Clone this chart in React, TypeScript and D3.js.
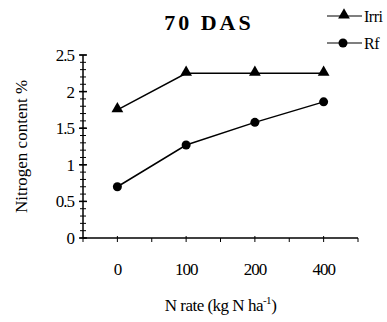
import { useRef, useEffect } from 'react';
import * as d3 from 'd3';

// N rate categories (kg N/ha) and nitrogen content % at 70 DAS
const n_rates = ["0", "100", "200", "400"];
const irri_values = [1.75, 2.25, 2.25, 2.25];
const rf_values = [0.7, 1.27, 1.58, 1.86];
const y_ticks = [0, 0.5, 1, 1.5, 2, 2.5];

const series = [
    { name: "Irri", values: irri_values, marker: "triangle" },
    { name: "Rf", values: rf_values, marker: "circle" },
];

export default function App() {
    const ref = useRef<SVGSVGElement>(null);

    useEffect(() => {
        const svg = d3.select(ref.current);
        svg.selectAll("*").remove();

        const font = "Liberation Serif, DejaVu Serif, serif";
        const left = 83, right = 358, top = 55, bottom = 238;

        const x = d3.scaleBand<string>()
            .domain(n_rates)
            .range([left, right]);

        const y = d3.scaleLinear()
            .domain([0, 2.5])
            .range([bottom, top]);

        const g = svg.append("g").attr("font-family", font);

        // y axis with major and minor ticks
        g.append("line")
            .attr("x1", left).attr("x2", left)
            .attr("y1", y(2.5)).attr("y2", y(0))
            .attr("stroke", "black").attr("stroke-width", 1.5);
        d3.range(0, 25.5).map((i) => i / 10).forEach((v) => {
            g.append("line")
                .attr("x1", left - 3).attr("x2", left + 3)
                .attr("y1", y(v)).attr("y2", y(v))
                .attr("stroke", "black").attr("stroke-width", 1);
        });
        y_ticks.forEach((v) => {
            g.append("line")
                .attr("x1", left - 4).attr("x2", left + 4)
                .attr("y1", y(v)).attr("y2", y(v))
                .attr("stroke", "black").attr("stroke-width", 1.5);
            g.append("text")
                .attr("x", left - 9)
                .attr("y", y(v))
                .attr("dy", "0.35em")
                .attr("text-anchor", "end")
                .attr("font-size", 17)
                .attr("letter-spacing", -1)
                .text(v);
        });

        // x axis with ticks at band centers and band edges
        g.append("line")
            .attr("x1", left).attr("x2", right)
            .attr("y1", bottom).attr("y2", bottom)
            .attr("stroke", "black").attr("stroke-width", 1.5);
        const edges = [...n_rates.map((d) => x(d) ?? 0), right];
        edges.forEach((ex) => {
            g.append("line")
                .attr("x1", ex).attr("x2", ex)
                .attr("y1", bottom).attr("y2", bottom + 4)
                .attr("stroke", "black").attr("stroke-width", 1);
        });
        n_rates.forEach((d) => {
            const cx = (x(d) ?? 0) + x.bandwidth() / 2;
            g.append("line")
                .attr("x1", cx).attr("x2", cx)
                .attr("y1", bottom - 2).attr("y2", bottom + 4)
                .attr("stroke", "black").attr("stroke-width", 1);
            g.append("text")
                .attr("x", cx)
                .attr("y", bottom + 37)
                .attr("text-anchor", "middle")
                .attr("font-size", 17)
                .attr("letter-spacing", -1)
                .text(d);
        });

        // series lines and markers
        const line = d3.line<number>()
            .x((_, i) => (x(n_rates[i]) ?? 0) + x.bandwidth() / 2)
            .y((v) => y(v));
        const tri = d3.symbol().type(d3.symbolTriangle).size(60);

        series.forEach((s) => {
            g.append("path")
                .attr("d", line(s.values))
                .attr("fill", "none")
                .attr("stroke", "black")
                .attr("stroke-width", 1.5);
            s.values.forEach((v, i) => {
                const cx = (x(n_rates[i]) ?? 0) + x.bandwidth() / 2;
                if (s.marker === "triangle") {
                    g.append("path")
                        .attr("d", tri())
                        .attr("transform", `translate(${cx}, ${y(v) - 1})`)
                        .attr("fill", "black");
                } else {
                    g.append("circle")
                        .attr("cx", cx).attr("cy", y(v)).attr("r", 4.5)
                        .attr("fill", "black");
                }
            });
        });

        // legend
        series.forEach((s, i) => {
            const ly = 16 + i * 27;
            g.append("line")
                .attr("x1", 327).attr("x2", 362)
                .attr("y1", ly).attr("y2", ly)
                .attr("stroke", "black").attr("stroke-width", 1.2);
            if (s.marker === "triangle") {
                g.append("path")
                    .attr("d", tri())
                    .attr("transform", `translate(344, ${ly - 1})`)
                    .attr("fill", "black");
            } else {
                g.append("circle")
                    .attr("cx", 343).attr("cy", ly).attr("r", 4.5)
                    .attr("fill", "black");
            }
            g.append("text")
                .attr("x", 364)
                .attr("y", ly)
                .attr("dy", "0.35em")
                .attr("font-size", 16)
                .attr("letter-spacing", -0.5)
                .text(s.name);
        });

        // title
        g.append("text")
            .attr("x", 209)
            .attr("y", 30)
            .attr("text-anchor", "middle")
            .attr("font-size", 22)
            .attr("font-weight", "bold")
            .attr("letter-spacing", 3)
            .text("70 DAS");

        // axis titles
        g.append("text")
            .attr("transform", `translate(27, ${(top + bottom) / 2}) rotate(-90)`)
            .attr("text-anchor", "middle")
            .attr("font-size", 17)
            .text("Nitrogen content %");

        const xt = g.append("text")
            .attr("x", (left + right) / 2)
            .attr("y", 311)
            .attr("text-anchor", "middle")
            .attr("font-size", 17)
            .attr("letter-spacing", -0.5);
        xt.append("tspan").text("N rate (kg N ha");
        xt.append("tspan").attr("dy", -7).attr("font-size", 11).text("-1");
        xt.append("tspan").attr("dy", 7).text(")");
    }, []);

    return (
        <svg
            ref={ref}
            width={387}
            height={322}
            style={{ position: "absolute", left: 0, top: 0, background: "white" }}
        />
    );
}
